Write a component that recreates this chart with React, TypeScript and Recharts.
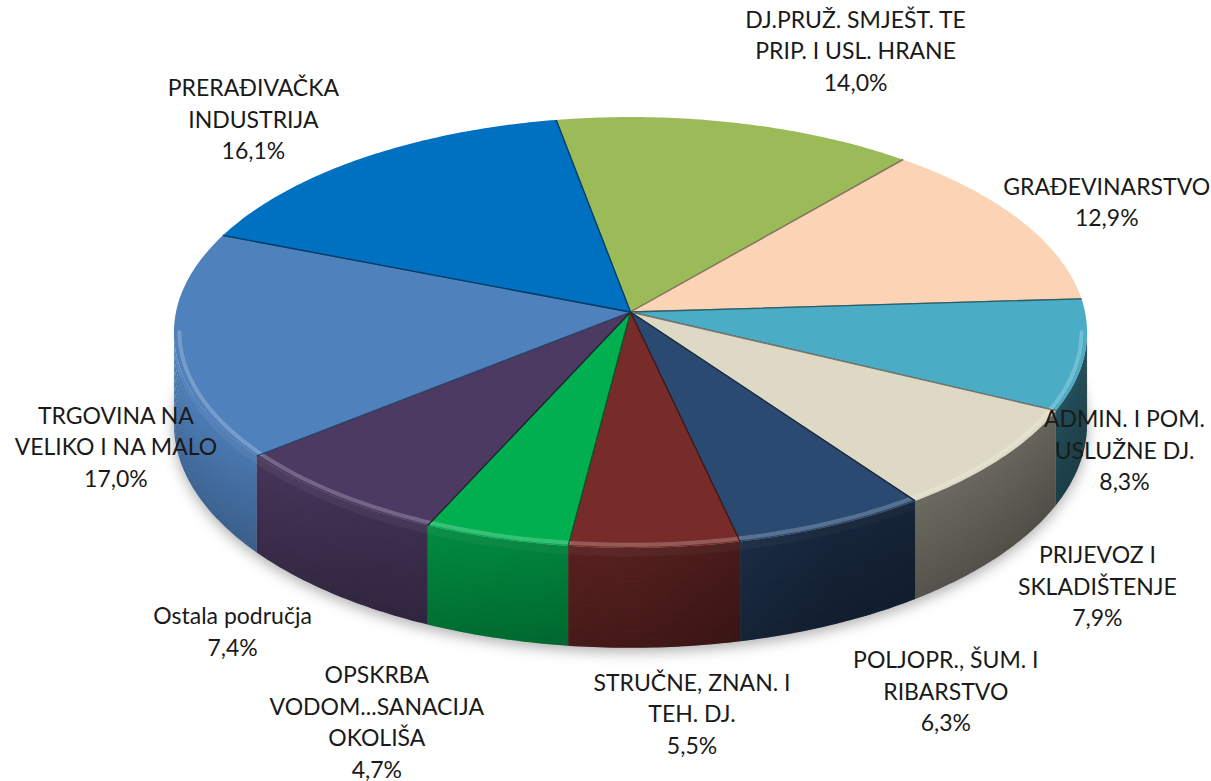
import React from 'react';
import { PieChart, Pie, Cell } from 'recharts';

// ---------- data ----------
const categories = [
  'DJ.PRUŽ. SMJEŠT. TE PRIP. I USL. HRANE',
  'GRAĐEVINARSTVO',
  'ADMIN. I POM. USLUŽNE DJ.',
  'PRIJEVOZ I SKLADIŠTENJE',
  'POLJOPR., ŠUM. I RIBARSTVO',
  'STRUČNE, ZNAN. I TEH. DJ.',
  'OPSKRBA VODOM...SANACIJA OKOLIŠA',
  'Ostala područja',
  'TRGOVINA NA VELIKO I NA MALO',
  'PRERAĐIVAČKA INDUSTRIJA',
];
const shares = [14.0, 12.9, 8.3, 7.9, 6.3, 5.5, 4.7, 7.4, 17.0, 16.1];
const shareLabels = ['14,0%', '12,9%', '8,3%', '7,9%', '6,3%', '5,5%', '4,7%', '7,4%', '17,0%', '16,1%'];
const labelLines = [
  ['DJ.PRUŽ. SMJEŠT. TE', 'PRIP. I USL. HRANE'],
  ['GRAĐEVINARSTVO'],
  ['ADMIN. I POM.', 'USLUŽNE DJ.'],
  ['PRIJEVOZ I', 'SKLADIŠTENJE'],
  ['POLJOPR., ŠUM. I', 'RIBARSTVO'],
  ['STRUČNE, ZNAN. I', 'TEH. DJ.'],
  ['OPSKRBA', 'VODOM...SANACIJA', 'OKOLIŠA'],
  ['Ostala područja'],
  ['TRGOVINA NA', 'VELIKO I NA MALO'],
  ['PRERAĐIVAČKA', 'INDUSTRIJA'],
];

// ---------- styles / layout ----------
const colors = ['#9BBB59', '#FAD4B4', '#4BACC6', '#DDD9C4', '#2B4A72', '#772C2A', '#00B050', '#4C3A62', '#4F81BD', '#0070C0'];
const labelNudge: [number, number][] = [
  [99, -38], [13, 0], [-53, 87], [19, 95], [68, 118], [32, 113], [-89, 133], [-34, 96], [34, 95], [-60, -10],
];

const W = 1211;
const H = 781;
const CX = 625.5;
const CY = 307;
const R = 454.5;
const TILT = 0.4697;
const PERSP = 0.095;
const DEPTH = 0.199;
const START = 100.3;

const data = categories.map((name, i) => ({ name, value: shares[i] }));

function proj(cx: number, cy: number, rad: number, deg: number, r: number) {
  const t = (deg * Math.PI) / 180;
  const u = r * Math.cos(t);
  const v = -r * Math.sin(t);
  const w = 1 - PERSP * v;
  return { x: cx + (rad * u) / w, y: cy + (rad * TILT * v) / w, d: (rad * DEPTH) / w };
}

function shade(hex: string, f: number) {
  const n = parseInt(hex.slice(1), 16);
  const ch = [(n >> 16) & 255, (n >> 8) & 255, n & 255];
  const c = (x: number) => Math.max(0, Math.min(255, Math.round(f <= 1 ? x * f : x + (255 - x) * (f - 1))));
  return `rgb(${c(ch[0])},${c(ch[1])},${c(ch[2])})`;
}

function sampleAngles(a: number, b: number) {
  const n = Math.max(2, Math.ceil(Math.abs(b - a) / 0.75) + 1);
  const out: number[] = [];
  for (let i = 0; i < n; i++) out.push(a + ((b - a) * i) / (n - 1));
  return out;
}

const SIL = (Math.asin(PERSP) * 180) / Math.PI;
const VIS_LO = -180 + SIL;
const VIS_HI = -SIL;

function visibleRange(s: number, e: number): [number, number] | null {
  const lo = Math.min(s, e);
  const hi = Math.max(s, e);
  for (const sh of [-720, -360, 0, 360, 720]) {
    const a = Math.max(lo, VIS_LO + sh);
    const b = Math.min(hi, VIS_HI + sh);
    if (b > a) return [a, b];
  }
  return null;
}

function sideFactor(t: number) {
  if (t < 0.07) return 1.14 - (t / 0.07) * 0.14;
  return 1.0 - (0.2 * (t - 0.07)) / 0.93;
}

const Slice3D = (props: any) => {
  const i: number = props.index;
  const cx: number = props.cx ?? CX;
  const cy: number = props.cy ?? CY;
  const rad: number = props.outerRadius ?? R;
  const s: number = props.startAngle;
  const e: number = props.endAngle;
  const col = colors[i % colors.length];

  const angs = sampleAngles(s, e);
  const rim = angs.map((a) => proj(cx, cy, rad, a, 1));
  const top =
    `M${cx},${cy} ` + rim.map((p) => `L${p.x.toFixed(2)},${p.y.toFixed(2)}`).join(' ') + ' Z';
  const edges = `M${rim[0].x},${rim[0].y} L${cx},${cy} L${rim[rim.length - 1].x},${rim[rim.length - 1].y}`;

  const vis = visibleRange(s, e);
  const bands: React.ReactNode[] = [];
  let sideAll = '';
  let bevel = '';
  if (vis) {
    const va = sampleAngles(vis[0], vis[1]);
    const pts = va.map((a) => proj(cx, cy, rad, a, 1));
    const N = 12;
    for (let j = 0; j < N; j++) {
      const f0 = j / N;
      const f1 = (j + 1) / N;
      const up = pts.map((p) => `${p.x.toFixed(2)},${(p.y + p.d * f0).toFixed(2)}`);
      const dn = pts
        .slice()
        .reverse()
        .map((p) => `${p.x.toFixed(2)},${(p.y + p.d * f1 + (j < N - 1 ? 0.6 : 0)).toFixed(2)}`);
      const c = shade(col, sideFactor((f0 + f1) / 2));
      bands.push(<path key={j} d={`M${up.join(' L')} L${dn.join(' L')} Z`} fill={c} stroke="none" />);
    }
    const up = pts.map((p) => `${p.x.toFixed(2)},${p.y.toFixed(2)}`);
    const dn = pts
      .slice()
      .reverse()
      .map((p) => `${p.x.toFixed(2)},${(p.y + p.d).toFixed(2)}`);
    sideAll = `M${up.join(' L')} L${dn.join(' L')} Z`;
    const inner = va.map((a) => proj(cx, cy, rad, a, 0.988));
    bevel = 'M' + inner.map((p) => `${p.x.toFixed(2)},${p.y.toFixed(2)}`).join(' L');
  }

  let extras: React.ReactNode = null;
  if (i === 0) {
    const full = sampleAngles(0, 360).map((a) => proj(cx, cy, rad, a, 1));
    const shadowPath =
      'M' + full.map((p) => `${p.x.toFixed(2)},${(p.y + p.d + 4).toFixed(2)}`).join(' L') + ' Z';
    extras = (
      <>
        <defs>
          <linearGradient id="pie3dSideShade" gradientUnits="userSpaceOnUse" x1={cx - rad} y1={0} x2={cx + rad} y2={0}>
            <stop offset="0" stopColor="#000" stopOpacity={0.02} />
            <stop offset="0.2" stopColor="#000" stopOpacity={0.18} />
            <stop offset="0.5" stopColor="#000" stopOpacity={0.3} />
            <stop offset="0.72" stopColor="#000" stopOpacity={0.5} />
            <stop offset="1" stopColor="#000" stopOpacity={0.56} />
          </linearGradient>
          <filter id="pie3dBlur" x="-10%" y="-20%" width="120%" height="140%">
            <feGaussianBlur stdDeviation="7" />
          </filter>
        </defs>
        <path d={shadowPath} fill="rgba(0,0,0,0.32)" filter="url(#pie3dBlur)" />
      </>
    );
  }

  return (
    <g>
      {extras}
      {bands}
      {sideAll && <path d={sideAll} fill="url(#pie3dSideShade)" stroke="none" />}
      <path d={top} fill={col} stroke="none" />
      {bevel && (
        <path d={bevel} fill="none" stroke="#ffffff" strokeOpacity={0.22} strokeWidth={4} strokeLinecap="round" />
      )}
      <path d={edges} fill="none" stroke={shade(col, 0.55)} strokeWidth={1.3} strokeLinejoin="round" />
    </g>
  );
};

const FONT = 23;
const LINE_H = 31.5;

const SliceLabel = (props: any) => {
  const i: number = props.index;
  const cx: number = props.cx ?? CX;
  const cy: number = props.cy ?? CY;
  const rad: number = props.outerRadius ?? R;
  const base = proj(cx, cy, rad, props.midAngle, 1.2);
  const x = base.x + labelNudge[i][0];
  const yc = base.y + labelNudge[i][1];
  const lines = [...labelLines[i], shareLabels[i]];
  const y0 = yc - ((lines.length - 1) * LINE_H) / 2;
  return (
    <text
      x={x}
      y={y0}
      textAnchor="middle"
      fontFamily="Lato, 'Open Sans', 'Liberation Sans', sans-serif"
      fontSize={FONT}
      fill="#1a1a1a"
    >
      {lines.map((ln, k) => (
        <tspan key={k} x={x} y={y0 + k * LINE_H + FONT * 0.36}>
          {ln}
        </tspan>
      ))}
    </text>
  );
};

export default function App() {
  return (
    <div style={{ position: 'absolute', left: 0, top: 0, width: W, height: H, background: '#fff' }}>
      <PieChart width={W} height={H}>
        <Pie
          data={data}
          dataKey="value"
          nameKey="name"
          cx={CX}
          cy={CY}
          outerRadius={R}
          startAngle={START}
          endAngle={START - 360}
          stroke="none"
          fill="transparent"
          isAnimationActive={false}
          labelLine={false}
          label={Slice3D}
        >
          {data.map((d) => (
            <Cell key={d.name} fill="transparent" stroke="none" />
          ))}
        </Pie>
        <Pie
          data={data}
          dataKey="value"
          nameKey="name"
          cx={CX}
          cy={CY}
          outerRadius={R}
          startAngle={START}
          endAngle={START - 360}
          stroke="none"
          fill="transparent"
          isAnimationActive={false}
          labelLine={false}
          label={SliceLabel}
        >
          {data.map((d) => (
            <Cell key={d.name} fill="transparent" stroke="none" />
          ))}
        </Pie>
      </PieChart>
    </div>
  );
}
